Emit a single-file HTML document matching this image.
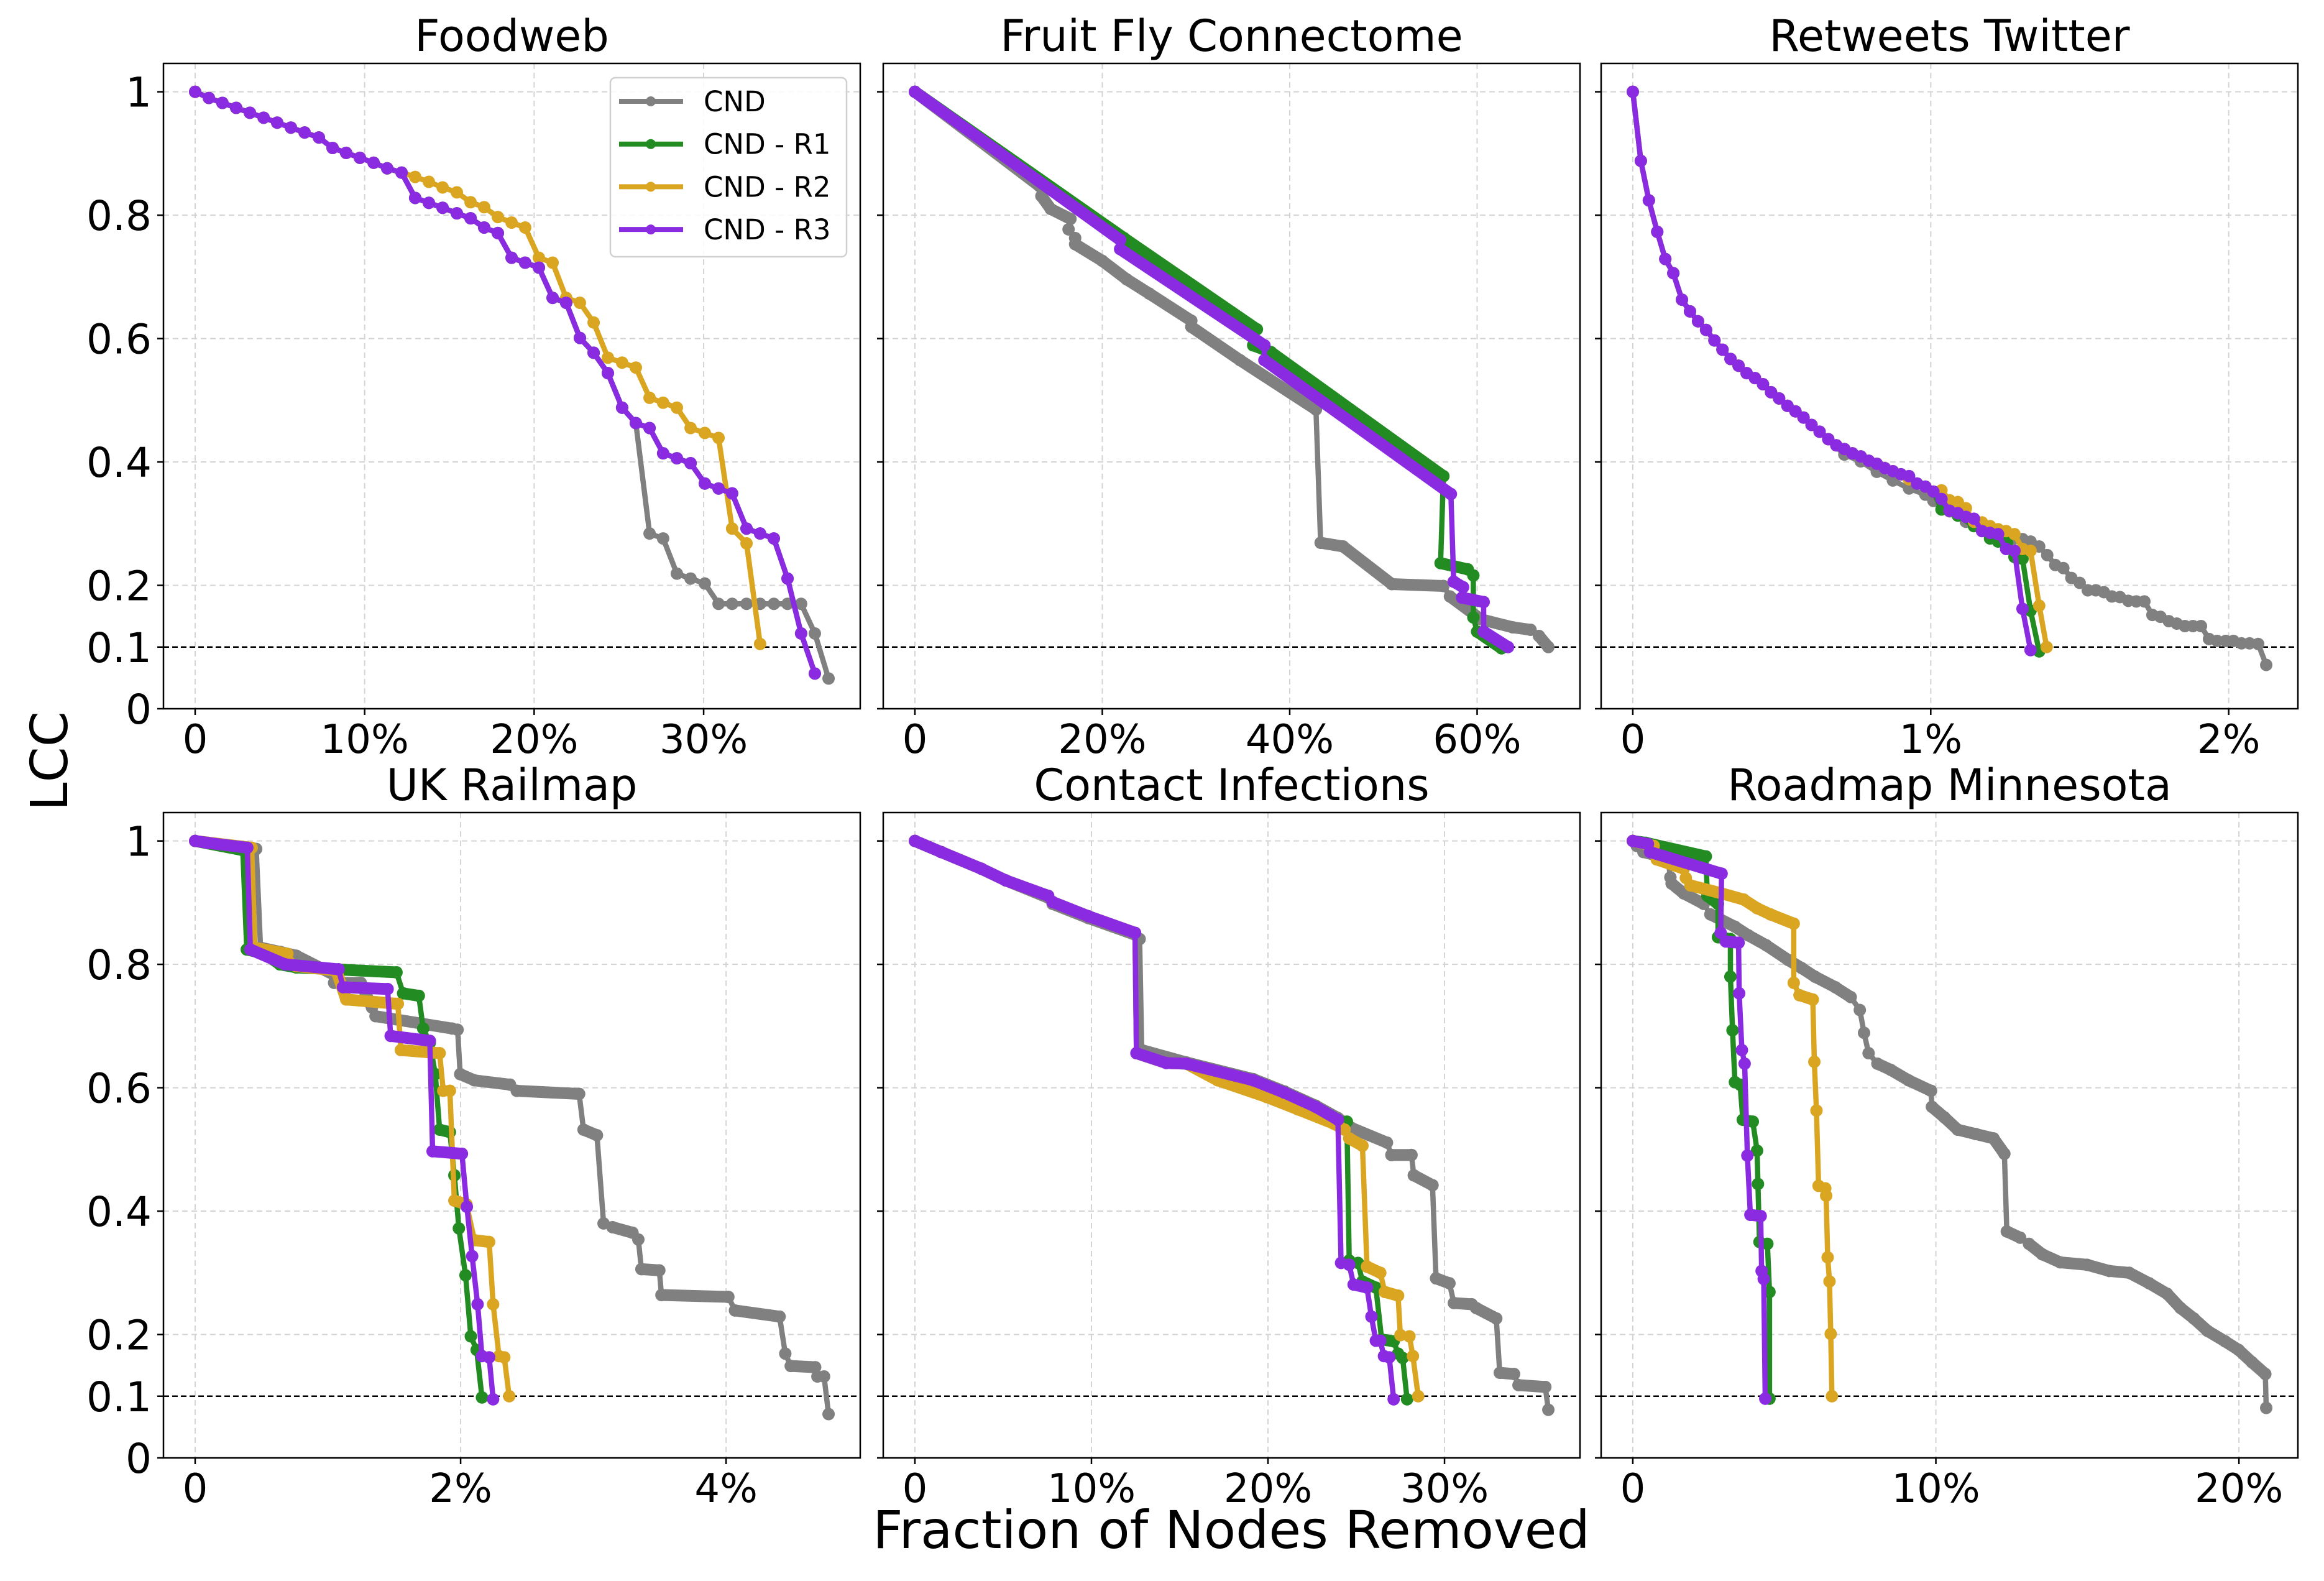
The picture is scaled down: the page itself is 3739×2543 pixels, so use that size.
<!DOCTYPE html>
<html><head><meta charset="utf-8"><style>
html,body{margin:0;padding:0;background:#fff;}
svg text{font-family:"DejaVu Sans","Liberation Sans",sans-serif;}
</style></head><body>
<svg id="fig" xmlns="http://www.w3.org/2000/svg" width="3739" height="2538" viewBox="0 0 3739 2538">
<rect x="0" y="0" width="3739" height="2538" fill="#fff"/>
<text x="1981" y="2490" font-size="84" text-anchor="middle">Fraction of Nodes Removed</text>
<text x="0" y="0" font-size="82" text-anchor="middle" transform="translate(108,1224) rotate(-90)">LCC</text>
</svg>
<script>
// ---- data (x in % of nodes removed, y = LCC) ----
const yTickValues = [0,0.1,0.2,0.4,0.6,0.8,1];
const yTickLabels = ["0","0.1","0.2","0.4","0.6","0.8","1"];
const thresholdValue = 0.1;
const seriesNames = ["CND","CND - R1","CND - R2","CND - R3"];

// Foodweb
const fwTicks = [0,10,20,30];
const fwPurpleX = [0,0.81,1.61,2.42,3.23,4.04,4.84,5.65,6.46,7.30,8.11,8.91,9.72,10.53,11.33,12.18,12.98,13.79,14.60,15.44,16.25,17.05,17.86,18.67,19.47,20.28,21.09,21.89,22.70,23.51,24.35,25.19,26.0,26.81,27.61,28.42,29.23,30.07,30.88,31.68,32.53,33.33,34.14,34.95,35.75,36.56];
const fwPurpleY = [1.0,0.990,0.982,0.974,0.966,0.958,0.950,0.942,0.934,0.926,0.909,0.901,0.893,0.885,0.876,0.869,0.828,0.820,0.812,0.803,0.795,0.780,0.771,0.731,0.723,0.715,0.666,0.658,0.601,0.577,0.544,0.488,0.463,0.455,0.414,0.406,0.398,0.365,0.357,0.349,0.292,0.284,0.276,0.211,0.122,0.057];
const fwGreenX = [0,0.81,1.61,2.42,3.23,4.04,4.84,5.65,6.46,7.30,8.11,8.91,9.72,10.53,11.33,12.18,12.98,13.79,14.60,15.44,16.25,17.05,17.86,18.67,19.47,20.28,21.09,21.89,22.70,23.51,24.35,25.19,26.0,26.81,27.61,28.42,29.23,30.07,30.88,31.68,32.53,33.33,34.14,34.95,35.75,36.56];
const fwGreenY = [1.0,0.990,0.982,0.974,0.966,0.958,0.950,0.942,0.934,0.926,0.909,0.901,0.893,0.885,0.876,0.869,0.828,0.820,0.812,0.803,0.795,0.780,0.771,0.731,0.723,0.715,0.666,0.658,0.601,0.577,0.544,0.488,0.463,0.455,0.414,0.406,0.398,0.365,0.357,0.349,0.292,0.284,0.276,0.211,0.122,0.057];
const fwOrangeX = [0,0.81,1.61,2.42,3.23,4.04,4.84,5.65,6.46,7.30,8.11,8.91,9.72,10.53,11.33,12.18,12.98,13.79,14.60,15.44,16.25,17.05,17.86,18.67,19.47,20.28,21.09,21.89,22.70,23.51,24.35,25.19,26.0,26.81,27.61,28.42,29.23,30.07,30.88,31.68,32.53,33.33];
const fwOrangeY = [1.0,0.990,0.982,0.974,0.966,0.958,0.950,0.942,0.934,0.926,0.909,0.901,0.893,0.885,0.876,0.869,0.862,0.854,0.845,0.837,0.821,0.813,0.797,0.788,0.780,0.731,0.723,0.666,0.658,0.626,0.569,0.561,0.553,0.504,0.496,0.488,0.455,0.447,0.439,0.292,0.268,0.105];
const fwGrayX = [0,0.81,1.61,2.42,3.23,4.04,4.84,5.65,6.46,7.30,8.11,8.91,9.72,10.53,11.33,12.18,12.98,13.79,14.60,15.44,16.25,17.05,17.86,18.67,19.47,20.28,21.09,21.89,22.70,23.51,24.35,25.19,26.0,26.81,27.61,28.42,29.23,30.07,30.88,31.68,32.53,33.33,34.14,34.95,35.75,36.56,37.37];
const fwGrayY = [1.0,0.990,0.982,0.974,0.966,0.958,0.950,0.942,0.934,0.926,0.909,0.901,0.893,0.885,0.876,0.869,0.828,0.820,0.812,0.803,0.795,0.780,0.771,0.731,0.723,0.715,0.666,0.658,0.601,0.577,0.544,0.488,0.463,0.284,0.276,0.219,0.211,0.203,0.170,0.170,0.170,0.170,0.170,0.170,0.170,0.122,0.049];

// Fruit Fly Connectome
const ffTicks = [0,20,40,60];
const ffGrayX = [0,13.3,13.5,14.5,16.6,16.4,17.1,17.1,20.0,22.6,25.0,29.5,29.5,34.7,42.8,43.3,45.7,50.9,56.4,57.1,60.4,63.8,65.7,66.6,67.6];
const ffGrayY = [1.0,0.847,0.831,0.810,0.794,0.777,0.763,0.753,0.726,0.696,0.673,0.629,0.619,0.565,0.485,0.269,0.263,0.202,0.199,0.182,0.145,0.132,0.128,0.118,0.100];
const ffGreenX = [0,22.3,36.5,36.1,38.0,56.4,56.1,59.0,59.6,59.6,60.0,62.6];
const ffGreenY = [1.0,0.763,0.615,0.589,0.578,0.377,0.236,0.226,0.216,0.148,0.125,0.098];
const ffOrangeX = [];
const ffOrangeY = [];
const ffPurpleX = [0,21.9,21.9,37.3,37.3,57.2,57.5,58.5,58.4,60.7,60.7,63.3];
const ffPurpleY = [1.0,0.760,0.745,0.589,0.565,0.348,0.206,0.197,0.180,0.173,0.125,0.100];

// Retweets Twitter
const rtTicks = [0,1,2];
const rtPurpleX = [0,0.027,0.054,0.082,0.109,0.136,0.165,0.192,0.219,0.246,0.274,0.301,0.328,0.355,0.382,0.410,0.437,0.464,0.491,0.519,0.546,0.573,0.600,0.627,0.656,0.683,0.710,0.737,0.765,0.792,0.819,0.846,0.873,0.900,0.927,0.954,0.982,1.009,1.036,1.063,1.091,1.118,1.145,1.172,1.199,1.226,1.253,1.281,1.308,1.335];
const rtPurpleY = [1.0,0.888,0.824,0.773,0.729,0.706,0.663,0.644,0.628,0.614,0.597,0.582,0.567,0.556,0.544,0.536,0.526,0.513,0.503,0.491,0.482,0.472,0.460,0.449,0.437,0.427,0.421,0.414,0.409,0.402,0.397,0.390,0.385,0.380,0.377,0.365,0.360,0.352,0.340,0.321,0.317,0.311,0.308,0.288,0.285,0.283,0.259,0.256,0.162,0.095];
const rtGreenX = [0,0.027,0.054,0.082,0.109,0.136,0.165,0.192,0.219,0.246,0.274,0.301,0.328,0.355,0.382,0.410,0.437,0.464,0.491,0.519,0.546,0.573,0.600,0.627,0.656,0.683,0.710,0.737,0.765,0.792,0.819,0.846,0.873,0.900,0.927,0.954,0.982,1.009,1.036,1.091,1.145,1.199,1.226,1.256,1.281,1.308,1.335,1.364];
const rtGreenY = [1.0,0.888,0.824,0.773,0.729,0.706,0.663,0.644,0.628,0.614,0.597,0.582,0.567,0.556,0.544,0.536,0.526,0.513,0.503,0.491,0.482,0.472,0.460,0.449,0.437,0.427,0.421,0.414,0.409,0.402,0.397,0.390,0.385,0.380,0.377,0.365,0.360,0.352,0.323,0.313,0.296,0.276,0.271,0.269,0.246,0.243,0.159,0.093];
const rtOrangeX = [0,0.027,0.054,0.082,0.109,0.136,0.165,0.192,0.219,0.246,0.274,0.301,0.328,0.355,0.382,0.410,0.437,0.464,0.491,0.519,0.546,0.573,0.600,0.627,0.656,0.683,0.710,0.737,0.765,0.792,0.819,0.846,0.873,0.900,0.927,0.982,1.036,1.063,1.091,1.118,1.145,1.172,1.199,1.226,1.253,1.281,1.308,1.335,1.364,1.389];
const rtOrangeY = [1.0,0.888,0.824,0.773,0.729,0.706,0.663,0.644,0.628,0.614,0.597,0.582,0.567,0.556,0.544,0.536,0.526,0.513,0.503,0.491,0.482,0.472,0.460,0.449,0.437,0.427,0.421,0.414,0.409,0.402,0.397,0.390,0.385,0.380,0.372,0.360,0.354,0.338,0.335,0.325,0.303,0.302,0.296,0.291,0.288,0.283,0.259,0.256,0.167,0.100];
const rtGrayX = [0,0.027,0.054,0.082,0.109,0.136,0.165,0.192,0.219,0.246,0.274,0.301,0.328,0.355,0.382,0.410,0.437,0.464,0.491,0.519,0.546,0.573,0.600,0.627,0.656,0.710,0.765,0.819,0.873,0.927,0.982,1.009,1.063,1.118,1.172,1.226,1.281,1.308,1.335,1.364,1.391,1.418,1.445,1.472,1.500,1.527,1.554,1.581,1.608,1.635,1.663,1.690,1.717,1.744,1.771,1.799,1.826,1.853,1.880,1.907,1.934,1.961,1.990,2.016,2.043,2.070,2.099,2.126];
const rtGrayY = [1.0,0.888,0.824,0.773,0.729,0.706,0.663,0.644,0.628,0.614,0.597,0.582,0.567,0.556,0.544,0.536,0.526,0.513,0.503,0.491,0.482,0.472,0.460,0.449,0.437,0.412,0.401,0.384,0.370,0.357,0.347,0.337,0.320,0.303,0.290,0.280,0.276,0.275,0.271,0.263,0.249,0.233,0.228,0.212,0.204,0.192,0.192,0.189,0.182,0.181,0.175,0.174,0.174,0.152,0.149,0.142,0.138,0.134,0.134,0.134,0.113,0.110,0.110,0.110,0.106,0.106,0.105,0.071];

// UK Railmap
const ukTicks = [0,2,4];
const ukGrayX = [0,0.460,0.493,0.644,0.762,1.047,1.047,1.248,1.332,1.359,1.936,1.977,1.997,2.104,2.372,2.423,2.893,2.926,3.027,3.077,3.144,3.295,3.339,3.362,3.497,3.513,4.017,4.067,4.403,4.446,4.487,4.671,4.688,4.738,4.772];
const ukGrayY = [1.0,0.987,0.827,0.820,0.814,0.783,0.770,0.770,0.730,0.716,0.696,0.694,0.622,0.612,0.605,0.595,0.590,0.532,0.523,0.380,0.374,0.365,0.354,0.306,0.304,0.264,0.261,0.239,0.229,0.169,0.149,0.147,0.132,0.132,0.071];
const ukGreenX = [0,0.359,0.389,0.527,0.638,0.762,1.517,1.567,1.685,1.718,1.768,1.809,1.842,1.919,1.953,1.987,2.037,2.077,2.121,2.161];
const ukGreenY = [1.0,0.985,0.824,0.817,0.800,0.795,0.787,0.753,0.749,0.696,0.673,0.622,0.532,0.528,0.458,0.372,0.296,0.197,0.175,0.098];
const ukOrangeX = [0,0.426,0.450,0.695,0.762,1.064,1.138,1.527,1.550,1.842,1.869,1.919,1.953,2.044,2.104,2.215,2.245,2.289,2.329,2.366];
const ukOrangeY = [1.0,0.989,0.827,0.817,0.797,0.790,0.743,0.736,0.661,0.656,0.595,0.595,0.417,0.411,0.353,0.350,0.249,0.165,0.163,0.100];
const ukPurpleX = [0,0.091,0.393,0.416,0.678,1.081,1.114,1.450,1.473,1.768,1.789,2.010,2.047,2.087,2.128,2.161,2.215,2.245];
const ukPurpleY = [1.0,0.997,0.989,0.824,0.800,0.792,0.763,0.760,0.684,0.676,0.497,0.493,0.407,0.327,0.249,0.165,0.163,0.095];

// Contact Infections
const ciTicks = [0,10,20,30];
const ciGrayX = [0,1.49,3.76,5.15,7.55,7.80,9.82,12.47,12.73,12.85,15.38,19.17,20.93,22.70,23.96,24.72,26.74,26.99,28.13,28.26,29.32,29.52,30.28,30.53,31.54,31.79,32.93,33.13,33.94,34.19,35.71,35.88];
const ciGrayY = [1.0,0.982,0.955,0.936,0.908,0.898,0.875,0.848,0.841,0.661,0.641,0.614,0.594,0.571,0.551,0.535,0.511,0.491,0.491,0.458,0.442,0.291,0.283,0.251,0.249,0.243,0.226,0.138,0.136,0.118,0.115,0.078];
const ciGreenX = [0,1.49,3.76,5.15,7.55,7.80,9.82,12.47,12.55,14.24,15.38,19.17,20.93,22.70,23.96,24.47,24.60,25.10,25.35,26.11,26.44,27.12,27.37,27.63,27.88];
const ciGreenY = [1.0,0.982,0.955,0.936,0.911,0.901,0.878,0.851,0.656,0.640,0.639,0.612,0.592,0.569,0.548,0.545,0.320,0.316,0.286,0.276,0.192,0.189,0.169,0.162,0.095];
const ciOrangeX = [0,1.49,3.76,5.15,7.55,7.80,9.82,12.47,12.55,14.24,15.38,17.15,19.92,21.69,23.71,24.34,24.60,25.35,25.61,26.36,26.62,27.37,27.50,28.01,28.21,28.51];
const ciOrangeY = [1.0,0.982,0.955,0.936,0.911,0.901,0.878,0.851,0.656,0.640,0.639,0.612,0.585,0.565,0.542,0.532,0.518,0.506,0.310,0.300,0.269,0.263,0.199,0.197,0.165,0.100];
const ciPurpleX = [0,1.49,3.76,5.15,7.55,7.80,9.82,12.47,12.55,14.24,15.38,19.17,20.93,22.70,23.96,24.14,24.60,24.85,25.61,25.86,26.11,26.36,26.57,26.87,27.12];
const ciPurpleY = [1.0,0.982,0.955,0.936,0.911,0.901,0.878,0.851,0.656,0.640,0.639,0.612,0.592,0.569,0.548,0.316,0.313,0.281,0.276,0.229,0.190,0.190,0.165,0.163,0.095];

// Roadmap Minnesota
const rmTicks = [0,10,20];
const rmGrayX = [0,0.13,0.35,1.16,1.24,1.28,1.68,2.34,2.56,3.37,3.81,4.40,5.13,5.57,6.01,6.68,7.19,7.49,7.63,7.78,8.07,8.51,9.10,9.84,9.87,10.28,10.72,11.31,11.90,12.26,12.34,12.78,13.07,13.51,14.10,14.99,15.72,16.38,17.04,17.63,18.07,18.51,18.96,19.54,19.99,20.43,20.87,20.90];
const rmGrayY = [1.0,0.992,0.982,0.972,0.941,0.931,0.915,0.898,0.881,0.861,0.847,0.831,0.807,0.794,0.780,0.763,0.747,0.726,0.689,0.656,0.639,0.629,0.612,0.595,0.569,0.552,0.532,0.525,0.518,0.493,0.367,0.357,0.347,0.330,0.317,0.313,0.303,0.300,0.283,0.266,0.243,0.226,0.206,0.189,0.175,0.155,0.136,0.081];
const rmGreenX = [0,0.43,2.41,2.46,2.81,2.81,3.22,3.22,3.29,3.37,3.54,3.63,3.96,4.10,4.13,4.18,4.44,4.51,4.51];
const rmGreenY = [1.0,0.997,0.975,0.911,0.898,0.844,0.841,0.780,0.693,0.609,0.605,0.548,0.545,0.498,0.444,0.350,0.347,0.269,0.096];
const rmOrangeX = [0,0.69,0.79,1.68,1.75,1.90,2.93,3.66,4.10,4.54,5.31,5.31,5.50,5.94,5.99,6.06,6.13,6.35,6.38,6.43,6.49,6.53,6.57];
const rmOrangeY = [1.0,0.992,0.970,0.955,0.940,0.928,0.915,0.905,0.891,0.881,0.866,0.770,0.750,0.743,0.642,0.563,0.441,0.437,0.425,0.325,0.286,0.201,0.100];
const rmPurpleX = [0,0.50,0.57,2.93,2.90,3.07,3.49,3.51,3.60,3.69,3.78,3.88,4.22,4.25,4.32,4.37];
const rmPurpleY = [1.0,0.995,0.982,0.947,0.851,0.837,0.835,0.753,0.661,0.639,0.490,0.394,0.392,0.303,0.290,0.096];

// ---- layout / style ----
const NS = "http://www.w3.org/2000/svg";
const svg = document.getElementById('fig');
const colors = ["#808080","#228b22","#daa520","#8a2be2"];
const PW = 1121, PH = 1038, YMAX = 1.046;
const panels = [
  {key:'foodweb', title:'Foodweb', left:263, top:102, ticks:fwTicks, dense:false, showY:true,
   xs:[fwGrayX,fwGreenX,fwOrangeX,fwPurpleX], ys:[fwGrayY,fwGreenY,fwOrangeY,fwPurpleY]},
  {key:'fruit-fly', title:'Fruit Fly Connectome', left:1421, top:102, ticks:ffTicks, dense:true, showY:false,
   xs:[ffGrayX,ffGreenX,ffOrangeX,ffPurpleX], ys:[ffGrayY,ffGreenY,ffOrangeY,ffPurpleY]},
  {key:'retweets', title:'Retweets Twitter', left:2576, top:102, ticks:rtTicks, dense:false, showY:false,
   xs:[rtGrayX,rtGreenX,rtOrangeX,rtPurpleX], ys:[rtGrayY,rtGreenY,rtOrangeY,rtPurpleY]},
  {key:'uk-railmap', title:'UK Railmap', left:263, top:1307, ticks:ukTicks, dense:true, showY:true,
   xs:[ukGrayX,ukGreenX,ukOrangeX,ukPurpleX], ys:[ukGrayY,ukGreenY,ukOrangeY,ukPurpleY]},
  {key:'contact-infections', title:'Contact Infections', left:1421, top:1307, ticks:ciTicks, dense:true, showY:false,
   xs:[ciGrayX,ciGreenX,ciOrangeX,ciPurpleX], ys:[ciGrayY,ciGreenY,ciOrangeY,ciPurpleY]},
  {key:'roadmap-minnesota', title:'Roadmap Minnesota', left:2576, top:1307, ticks:rmTicks, dense:true, showY:false,
   xs:[rmGrayX,rmGreenX,rmOrangeX,rmPurpleX], ys:[rmGrayY,rmGreenY,rmOrangeY,rmPurpleY]}
];
const seriesKeys = ['cnd','cnd-r1','cnd-r2','cnd-r3'];

function mk(tag, attrs, parent){
  const e = document.createElementNS(NS, tag);
  for (const k in attrs) e.setAttribute(k, attrs[k]);
  (parent||svg).appendChild(e);
  return e;
}

panels.forEach(p => {
  let m = 0;
  p.xs.forEach(a => a.forEach(v => { if (v > m) m = v; }));
  const x0 = -0.05*m, x1 = 1.05*m;
  const sx = v => p.left + (v - x0)/(x1 - x0)*PW;
  const sy = v => p.top + PH - v/YMAX*PH;

  const g = mk('g', {});
  
  

  const t = mk('text', {x: p.left + PW/2, y: p.top - 20, 'font-size': 70, 'text-anchor':'middle'}, g);
  t.textContent = p.title;
  
  

  yTickValues.forEach(v => {
    if (v === 0 || v === thresholdValue) return;
    const gl = mk('line', {x1:p.left, x2:p.left+PW, y1:sy(v), y2:sy(v), stroke:'#d4d4d4', 'stroke-width':2, 'stroke-dasharray':'9,6'}, g);
    
    
  });
  p.ticks.forEach(v => {
    const gl = mk('line', {x1:sx(v), x2:sx(v), y1:p.top, y2:p.top+PH, stroke:'#d4d4d4', 'stroke-width':2, 'stroke-dasharray':'9,6'}, g);
    
    
  });

  const th = mk('line', {x1:p.left, x2:p.left+PW, y1:sy(thresholdValue), y2:sy(thresholdValue), stroke:'#000', 'stroke-width':2.5, 'stroke-dasharray':'9,5'}, g);
  
  

  const cid = 'clip-' + p.key;
  const cp = mk('clipPath', {id: cid}, g);
  mk('rect', {x:p.left, y:p.top, width:PW, height:PH}, cp);
  const plot = mk('g', {'clip-path':'url(#' + cid + ')'}, g);

  p.xs.forEach((xa, si) => {
    const ya = p.ys[si];
    if (!xa.length) return;
    const sg = mk('g', {}, plot);
    
    
    const pts = xa.map((v,i) => [sx(v), sy(ya[i])]);
    const line = mk('polyline', {points: pts.map(q => q[0].toFixed(1)+','+q[1].toFixed(1)).join(' '), fill:'none', stroke:colors[si], 'stroke-width':8.5, 'stroke-linejoin':'round', 'stroke-linecap':'round'}, sg);
    
    
    if (p.dense) {
      for (let i = 1; i < pts.length; i++) {
        if (Math.abs(pts[i][0] - pts[i-1][0]) > 15) {
          const seg = mk('line', {x1:pts[i-1][0], y1:pts[i-1][1], x2:pts[i][0], y2:pts[i][1], stroke:colors[si], 'stroke-width':19, 'stroke-linecap':'round'}, sg);
          
          
        }
      }
    }
    pts.forEach(q => {
      const c = mk('circle', {cx:q[0], cy:q[1], r:10, fill:colors[si]}, sg);
      
      
    });
  });

  const fr = mk('rect', {x:p.left, y:p.top, width:PW, height:PH, fill:'none', stroke:'#000', 'stroke-width':2.5}, g);
  
  

  p.ticks.forEach(v => {
    const tk = mk('line', {x1:sx(v), x2:sx(v), y1:p.top+PH, y2:p.top+PH+10, stroke:'#000', 'stroke-width':2.5}, g);
    
    
    const tl = mk('text', {x:sx(v), y:p.top+PH+71, 'font-size':64, 'text-anchor':'middle'}, g);
    tl.textContent = v === 0 ? '0' : v + '%';
    
    
  });
  yTickValues.forEach((v, i) => {
    const tk = mk('line', {x1:p.left-10, x2:p.left, y1:sy(v), y2:sy(v), stroke:'#000', 'stroke-width':2.5}, g);
    
    
    if (p.showY) {
      const tl = mk('text', {x:p.left-19, y:sy(v)+24, 'font-size':66, 'text-anchor':'end'}, g);
      tl.textContent = yTickLabels[i];
      
      
    }
  });
});

const lg = mk('g', {});


const lbox = mk('rect', {x:982, y:125, width:380, height:288, rx:8, fill:'#fff', 'fill-opacity':0.85, stroke:'#d0d0d0', 'stroke-width':2.5}, lg);


seriesNames.forEach((nm, i) => {
  const yy = 163 + i*68.7;
  const eg = mk('g', {}, lg);
  
  
  mk('line', {x1:996, x2:1099, y1:yy, y2:yy, stroke:colors[i], 'stroke-width':8}, eg);
  mk('circle', {cx:1047, cy:yy, r:8, fill:colors[i]}, eg);
  const tx = mk('text', {x:1132, y:yy+16, 'font-size':45}, eg);
  tx.textContent = nm;
  
  
});
</script>
</body></html>
